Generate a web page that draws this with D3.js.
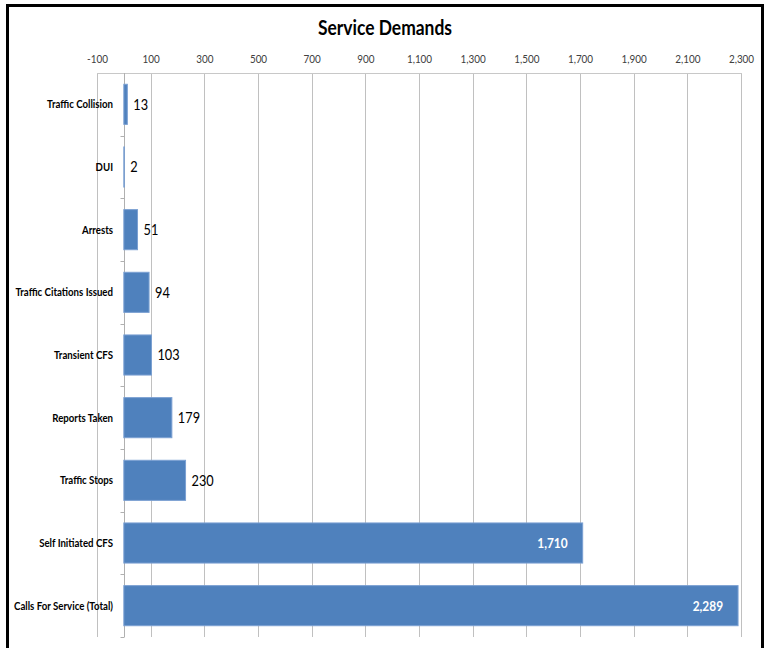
<!DOCTYPE html>
<html>
<head>
<meta charset="utf-8">
<script src="https://cdn.jsdelivr.net/npm/d3@7/dist/d3.min.js"></script>
<style>
  html, body { margin: 0; padding: 0; background: #fff; }
  svg { display: block; }
  .f { font-family: Lato, "Open Sans", sans-serif; }
</style>
</head>
<body>
<svg id="chart" width="768" height="648"></svg>
<script>
const categories = ["Traffic Collision", "DUI", "Arrests", "Traffic Citations Issued", "Transient CFS",
                    "Reports Taken", "Traffic Stops", "Self Initiated CFS", "Calls For Service (Total)"];
const values = [13, 2, 51, 94, 103, 179, 230, 1710, 2289];
const tickValues = [-100, 100, 300, 500, 700, 900, 1100, 1300, 1500, 1700, 1900, 2100, 2300];
const title = "Service Demands";

const svg = d3.select("#chart");
const W = 768, H = 648;
const m = { left: 97, right: 741, top: 73, bottom: 637 };

// condense text horizontally to mimic a narrow (Calibri-like) face
function condense(sel, factor) {
  sel.each(function () {
    const len = this.getComputedTextLength();
    d3.select(this).attr("textLength", len * factor).attr("lengthAdjust", "spacingAndGlyphs");
  });
}

svg.append("rect").attr("x", 0).attr("y", 0).attr("width", W).attr("height", H).attr("fill", "#fff");

const x = d3.scaleLinear().domain([-100, 2300]).range([m.left, m.right]);
const y = d3.scaleBand().domain(categories).range([m.top, m.bottom]).paddingInner(0.36).paddingOuter(0.18);

// gridlines
svg.append("g").selectAll("line").data(tickValues).join("line")
  .attr("x1", d => Math.round(x(d)) + 0.5).attr("x2", d => Math.round(x(d)) + 0.5)
  .attr("y1", m.top).attr("y2", m.bottom)
  .attr("stroke", "#c0c0c0").attr("stroke-width", 1);

// top plot border
svg.append("line").attr("x1", m.left).attr("x2", m.right + 1).attr("y1", m.top + 0.5).attr("y2", m.top + 0.5)
  .attr("stroke", "#c8c8c8");

// top axis labels
const fmt = d3.format(",");
const xAxis = d3.axisTop(x).tickValues(tickValues).tickSize(0).tickPadding(10)
  .tickFormat(d => d < 0 ? "-" + fmt(-d) : fmt(d));
const gx = svg.append("g").attr("transform", `translate(0,${m.top})`).call(xAxis);
gx.select(".domain").remove();
gx.selectAll("text").attr("class", "f").attr("font-size", 11).attr("fill", "#404040")
  .attr("font-family", null);
condense(gx.selectAll("text"), 0.9);

// zero axis with category boundary ticks
const z = Math.round(x(0)) + 0.5;
svg.append("line").attr("x1", z).attr("x2", z).attr("y1", m.top).attr("y2", m.bottom)
  .attr("stroke", "#b0b0b0");
svg.append("g").selectAll("line").data(d3.range(1, categories.length + 1)).join("line")
  .attr("x1", z - 4).attr("x2", z)
  .attr("y1", i => Math.round(m.top + i * (m.bottom - m.top) / categories.length) + 0.5)
  .attr("y2", i => Math.round(m.top + i * (m.bottom - m.top) / categories.length) + 0.5)
  .attr("stroke", "#b0b0b0");

// bars
svg.append("g").selectAll("rect").data(categories).join("rect")
  .attr("x", x(0))
  .attr("y", d => y(d))
  .attr("width", (d, i) => x(values[i]) - x(0))
  .attr("height", y.bandwidth())
  .attr("fill", "#4f81bd")
  .attr("stroke", "#7ba0d2").attr("stroke-width", 1);

// category labels
const cl = svg.append("g").selectAll("text").data(categories).join("text")
  .attr("class", "f")
  .attr("x", 113).attr("y", d => y(d) + y.bandwidth() / 2)
  .attr("dy", "0.35em").attr("text-anchor", "end")
  .attr("font-size", 11.5).attr("font-weight", "bold").attr("fill", "#000")
  .text(d => d);
condense(cl, 0.84);

// value labels
const vl = svg.append("g").selectAll("text").data(categories).join("text")
  .attr("class", "f")
  .attr("x", (d, i) => values[i] > 1000 ? x(values[i]) - 15 : x(values[i]) + 6)
  .attr("y", d => y(d) + y.bandwidth() / 2)
  .attr("dy", "0.36em")
  .attr("text-anchor", (d, i) => values[i] > 1000 ? "end" : "start")
  .attr("font-size", (d, i) => values[i] > 1000 ? 14 : 15)
  .attr("font-weight", (d, i) => values[i] > 1000 ? "bold" : "normal")
  .attr("fill", (d, i) => values[i] > 1000 ? "#fff" : "#000")
  .text((d, i) => fmt(values[i]));
condense(vl, 0.85);

// title
const tt = svg.append("text").attr("class", "f")
  .attr("x", 385).attr("y", 35).attr("text-anchor", "middle")
  .attr("font-size", 21).attr("font-weight", "bold").attr("fill", "#000")
  .text(title);
condense(tt, 0.83);

// outer frame
svg.append("rect").attr("x", 7.5).attr("y", 5.5).attr("width", 755).attr("height", 660)
  .attr("fill", "none").attr("stroke", "#000").attr("stroke-width", 3);
</script>
</body>
</html>
